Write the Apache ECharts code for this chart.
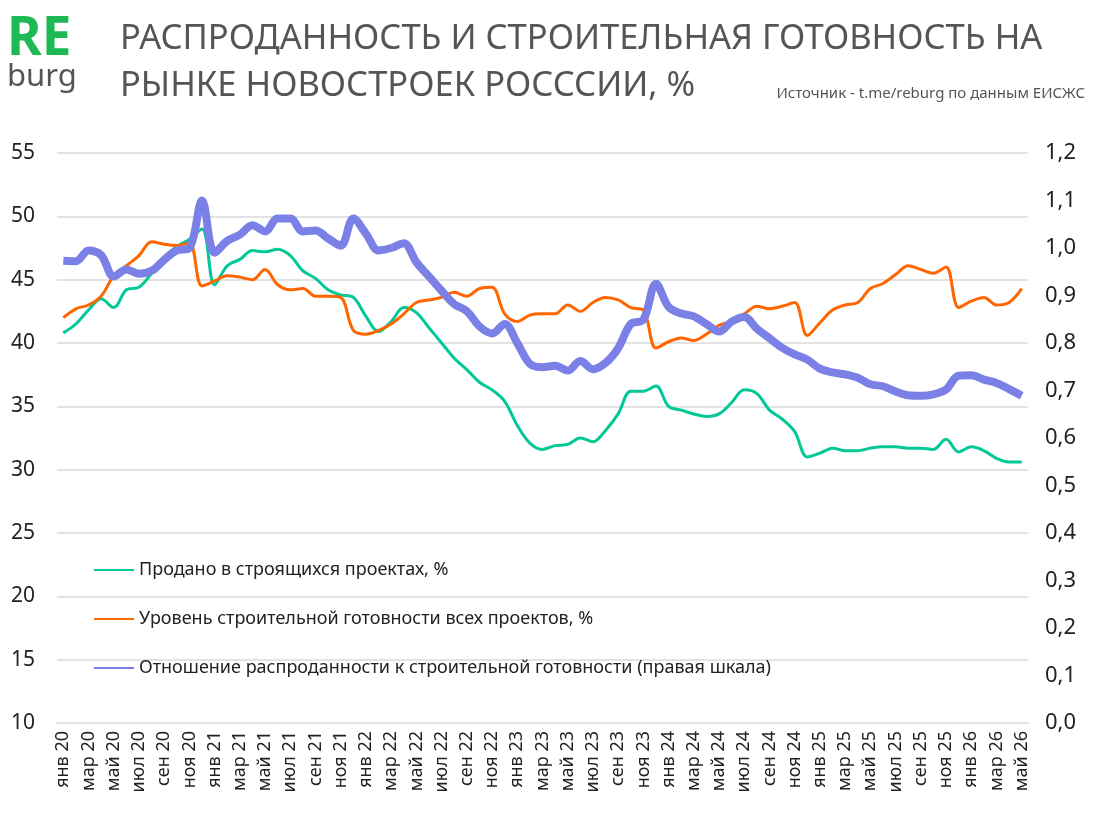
<!DOCTYPE html>
<html>
<head>
<meta charset="utf-8">
<script src="https://cdn.jsdelivr.net/npm/echarts@6/dist/echarts.min.js"></script>
<style>
  html, body { margin: 0; padding: 0; background: #fff; }
  #container { width: 1093px; height: 816px; }
</style>
</head>
<body>
<div id="container"></div>
<script>
// месяцы янв 20 ... май 26
var monthNames = ['янв', 'фев', 'мар', 'апр', 'май', 'июн', 'июл', 'авг', 'сен', 'окт', 'ноя', 'дек'];
var years = ['20', '21', '22', '23', '24', '25', '26'];

// продано в строящихся проектах, %
var sold = [
    40.8, 41.5, 42.6, 43.5, 42.8, 44.2, 44.4, 45.5, 46.8, 47.6, 48.2, 49.0,
    44.6, 46.1, 46.6, 47.3, 47.2, 47.4, 46.9, 45.7, 45.1, 44.2, 43.8, 43.6,
    42.1, 40.9, 41.7, 42.8, 42.4, 41.2, 40.0, 38.8, 37.9, 36.9, 36.3, 35.4,
    33.5, 32.1, 31.6, 31.9, 32.0, 32.5, 32.2, 33.1, 34.4, 36.2, 36.2, 36.6,
    35.0, 34.7, 34.4, 34.2, 34.4, 35.3, 36.3, 36.0, 34.7, 34.0, 33.0, 31.0,
    31.3, 31.7, 31.5, 31.5, 31.7, 31.8, 31.8, 31.7, 31.7, 31.6, 32.4, 31.4,
    31.8, 31.5, 30.9, 30.6, 30.6
];

// уровень строительной готовности всех проектов, %
var readiness = [
    42.0, 42.7, 43.0, 43.7, 45.3, 46.1, 46.9, 48.0, 47.8, 47.7, 47.9, 44.5,
    44.9, 45.3, 45.2, 45.0, 45.8, 44.6, 44.2, 44.3, 43.7, 43.7, 43.6, 41.0,
    40.7, 41.0, 41.5, 42.3, 43.2, 43.4, 43.6, 44.0, 43.7, 44.3, 44.4, 42.3,
    41.7, 42.2, 42.3, 42.3, 43.0, 42.5, 43.2, 43.6, 43.4, 42.8, 42.6, 39.6,
    40.1, 40.4, 40.2, 40.7, 41.4, 41.7, 42.3, 42.9, 42.7, 42.9, 43.2, 40.6,
    41.6, 42.6, 43.0, 43.2, 44.3, 44.7, 45.4, 46.1, 45.8, 45.5, 46.0, 42.8,
    43.3, 43.6, 43.0, 43.2, 44.3
];

// отношение распроданности к строительной готовности (правая шкала)
var ratio = [
    0.973, 0.972, 0.995, 0.985, 0.940, 0.955, 0.946, 0.952, 0.975, 0.995, 1.000, 1.100,
    0.990, 1.015, 1.028, 1.048, 1.035, 1.062, 1.062, 1.035, 1.037, 1.020, 1.005, 1.062,
    1.030, 0.995, 1.000, 1.010, 0.970, 0.940, 0.910, 0.882, 0.867, 0.835, 0.820, 0.840,
    0.800, 0.756, 0.749, 0.752, 0.742, 0.762, 0.745, 0.758, 0.789, 0.840, 0.849, 0.925,
    0.876, 0.862, 0.856, 0.840, 0.824, 0.845, 0.855, 0.830, 0.810, 0.790, 0.776, 0.765,
    0.746, 0.738, 0.734, 0.727, 0.713, 0.709, 0.698, 0.690, 0.689, 0.692, 0.702, 0.731,
    0.732, 0.723, 0.716, 0.703, 0.689
];

var seriesNames = [
    'Продано в строящихся проектах, %',
    'Уровень строительной готовности всех проектов, %',
    'Отношение распроданности к строительной готовности (правая шкала)'
];

var months = [];
for (var y = 0; y < years.length; y++) {
    for (var m = 0; m < 12; m++) {
        if (months.length < sold.length) months.push(monthNames[m] + ' ' + years[y]);
    }
}

var font = '"Noto Sans", sans-serif';
var dom = document.getElementById('container');
var myChart = echarts.init(dom);

var option = {
    animation: false,
    textStyle: { fontFamily: font },
    graphic: [
        { type: 'text', left: 7, top: 13, style: { text: 'RE', fill: '#1db954', font: 'bold 53px ' + font } },
        { type: 'text', left: 7, top: 62, style: { text: 'burg', fill: '#555', font: '31px ' + font } },
        { type: 'text', left: 120, top: 16, style: {
            text: 'РАСПРОДАННОСТЬ И СТРОИТЕЛЬНАЯ ГОТОВНОСТЬ НА\nРЫНКЕ НОВОСТРОЕК РОСССИИ, %',
            fill: '#555', font: '34.5px ' + font, lineHeight: 47 } },
        { type: 'text', right: 8, top: 86, style: { text: 'Источник - t.me/reburg по данным ЕИСЖС', fill: '#555', font: '15px ' + font } }
    ],
    legend: {
        orient: 'vertical',
        left: 88,
        top: 556,
        itemWidth: 40,
        itemHeight: 14,
        itemGap: 31,
        itemStyle: { opacity: 0 },
        textStyle: { fontSize: 18, color: '#222' },
        data: seriesNames
    },
    grid: { left: 57, right: 65, top: 153, bottom: 93 },
    xAxis: {
        type: 'category',
        data: months,
        boundaryGap: true,
        axisLine: { lineStyle: { color: '#e3e3e3', width: 2 } },
        axisTick: { show: false },
        axisLabel: { rotate: 90, interval: 1, fontSize: 18, color: '#222', margin: 8 }
    },
    yAxis: [
        {
            type: 'value', min: 10, max: 55, interval: 5,
            axisLine: { show: false }, axisTick: { show: false },
            axisLabel: { fontSize: 21, color: '#222', margin: 22 },
            splitLine: { lineStyle: { color: '#e3e3e3', width: 2 } }
        },
        {
            type: 'value', min: 0, max: 1.2, interval: 0.1,
            axisLine: { show: false }, axisTick: { show: false },
            axisLabel: {
                fontSize: 22, color: '#222', margin: 17,
                formatter: function (v) { return v.toFixed(1).replace('.', ','); }
            },
            splitLine: { show: false }
        }
    ],
    series: [
        {
            name: seriesNames[0], type: 'line', data: sold, smooth: 0.35,
            symbol: 'none', lineStyle: { color: '#00c896', width: 3 }, itemStyle: { color: '#00c896' }
        },
        {
            name: seriesNames[1], type: 'line', data: readiness, smooth: 0.35,
            symbol: 'none', lineStyle: { color: '#ff6600', width: 3 }, itemStyle: { color: '#ff6600' }
        },
        {
            name: seriesNames[2], type: 'line', yAxisIndex: 1, data: ratio, smooth: 0.35,
            symbol: 'none', lineStyle: { color: '#7b80e6', width: 8 }, itemStyle: { color: '#7b80e6' }
        }
    ]
};

myChart.setOption(option, true);
</script>
</body>
</html>
